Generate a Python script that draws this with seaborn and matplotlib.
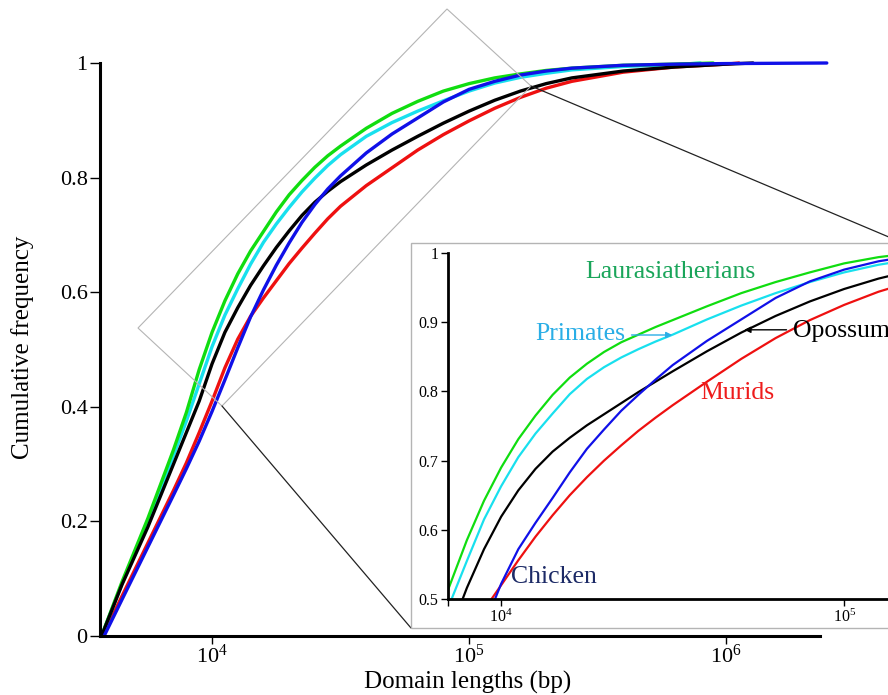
import numpy as np
import pandas as pd
import matplotlib
matplotlib.use("Agg")
import matplotlib.pyplot as plt
import seaborn as sns
from matplotlib.lines import Line2D
from matplotlib.patches import Rectangle, Polygon
from matplotlib.ticker import LogFormatterMathtext, NullLocator, FixedLocator, NullFormatter

# ---------------- data (log10 domain length, cumulative frequency) ----------------
species = ["Murids", "Primates", "Laurasiatherians", "Opossum", "Chicken"]
colors = {"Laurasiatherians": "#10dd10", "Primates": "#18e0ee", "Opossum": "#000000",
          "Murids": "#ee1010", "Chicken": "#1010e8"}

# main panel
green_logx = [3.57, 3.65, 3.75, 3.85, 3.90, 3.95, 4.00, 4.05, 4.10, 4.15, 4.20, 4.25, 4.30,
              4.35, 4.40, 4.45, 4.50, 4.60, 4.70, 4.80, 4.90, 5.00, 5.10, 5.20, 5.30, 5.40,
              5.60, 5.80, 5.95]
green_cdf = [0.0, 0.095, 0.205, 0.325, 0.39, 0.465, 0.53, 0.585, 0.632, 0.672, 0.706, 0.74,
             0.77, 0.795, 0.818, 0.838, 0.855, 0.886, 0.912, 0.933, 0.951, 0.964, 0.974,
             0.981, 0.987, 0.991, 0.996, 0.998, 1.0]
cyan_logx = [3.57, 3.65, 3.75, 3.85, 3.90, 3.95, 4.00, 4.05, 4.10, 4.15, 4.20, 4.25, 4.30,
             4.35, 4.40, 4.45, 4.50, 4.60, 4.70, 4.80, 4.90, 5.00, 5.10, 5.20, 5.30, 5.40,
             5.60, 5.80, 5.90]
cyan_cdf = [0.0, 0.092, 0.20, 0.315, 0.375, 0.44, 0.505, 0.56, 0.606, 0.649, 0.687, 0.719,
            0.748, 0.775, 0.799, 0.821, 0.84, 0.872, 0.896, 0.916, 0.934, 0.951, 0.965,
            0.975, 0.982, 0.988, 0.994, 0.997, 1.0]
black_logx = [3.57, 3.65, 3.75, 3.85, 3.90, 3.95, 4.00, 4.05, 4.10, 4.15, 4.20, 4.25, 4.30,
              4.35, 4.40, 4.45, 4.50, 4.60, 4.70, 4.80, 4.90, 5.00, 5.10, 5.20, 5.30, 5.40,
              5.60, 5.80, 6.00, 6.105]
black_cdf = [0.0, 0.09, 0.19, 0.30, 0.355, 0.41, 0.475, 0.53, 0.573, 0.612, 0.646, 0.678,
             0.707, 0.734, 0.757, 0.776, 0.793, 0.822, 0.848, 0.872, 0.895, 0.916, 0.935,
             0.951, 0.964, 0.974, 0.986, 0.993, 0.998, 1.0]
red_logx = [3.575, 3.65, 3.75, 3.85, 3.90, 3.95, 4.00, 4.05, 4.10, 4.15, 4.20, 4.25, 4.30,
            4.35, 4.40, 4.45, 4.50, 4.60, 4.70, 4.80, 4.90, 5.00, 5.10, 5.20, 5.30, 5.40,
            5.60, 5.80, 6.00, 6.05]
red_cdf = [0.0, 0.07, 0.162, 0.254, 0.302, 0.355, 0.41, 0.468, 0.518, 0.558, 0.59, 0.62,
           0.65, 0.677, 0.703, 0.728, 0.75, 0.786, 0.817, 0.848, 0.875, 0.899, 0.921, 0.94,
           0.956, 0.968, 0.984, 0.993, 0.998, 1.0]
blue_logx = [3.58, 3.65, 3.75, 3.85, 3.90, 3.95, 4.00, 4.05, 4.10, 4.15, 4.20, 4.25, 4.30,
             4.35, 4.40, 4.45, 4.50, 4.60, 4.70, 4.80, 4.90, 5.00, 5.10, 5.20, 5.30, 5.40,
             5.60, 5.80, 6.00, 6.392]
blue_cdf = [0.0, 0.064, 0.155, 0.246, 0.292, 0.34, 0.392, 0.447, 0.503, 0.557, 0.604, 0.647,
            0.686, 0.722, 0.753, 0.78, 0.803, 0.843, 0.876, 0.904, 0.932, 0.954, 0.968,
            0.979, 0.986, 0.991, 0.996, 0.998, 0.999, 1.0]

# inset panel (upper part of the curves)
in_green_logx = [3.835, 3.90, 3.95, 4.00, 4.05, 4.10, 4.15, 4.20, 4.25, 4.30, 4.35, 4.40,
                 4.45, 4.50, 4.60, 4.70, 4.80, 4.90, 5.00, 5.10, 5.20]
in_green_cdf = [0.50, 0.585, 0.642, 0.69, 0.731, 0.765, 0.795, 0.82, 0.84, 0.857, 0.871,
                0.882, 0.893, 0.903, 0.923, 0.942, 0.958, 0.972, 0.985, 0.994, 1.0]
in_cyan_logx = [3.845, 3.90, 3.95, 4.00, 4.05, 4.10, 4.15, 4.20, 4.25, 4.30, 4.35, 4.40,
                4.45, 4.50, 4.60, 4.70, 4.80, 4.90, 5.00, 5.10, 5.20]
in_cyan_cdf = [0.487, 0.555, 0.615, 0.663, 0.705, 0.739, 0.768, 0.796, 0.818, 0.835, 0.849,
               0.861, 0.872, 0.882, 0.904, 0.924, 0.942, 0.958, 0.972, 0.983, 0.991]
in_black_logx = [3.88, 3.90, 3.95, 4.00, 4.05, 4.10, 4.15, 4.20, 4.25, 4.30, 4.35, 4.40,
                 4.45, 4.50, 4.60, 4.70, 4.80, 4.90, 5.00, 5.10, 5.20]
in_black_cdf = [0.49, 0.516, 0.572, 0.619, 0.657, 0.688, 0.713, 0.733, 0.751, 0.767, 0.783,
                0.799, 0.814, 0.829, 0.858, 0.885, 0.909, 0.93, 0.948, 0.963, 0.975]
in_red_logx = [3.965, 4.00, 4.05, 4.10, 4.15, 4.20, 4.25, 4.30, 4.35, 4.40, 4.45, 4.50, 4.60,
               4.70, 4.80, 4.90, 5.00, 5.10, 5.20]
in_red_cdf = [0.495, 0.52, 0.556, 0.59, 0.621, 0.65, 0.676, 0.70, 0.722, 0.743, 0.762, 0.78,
              0.814, 0.847, 0.877, 0.903, 0.925, 0.944, 0.959]
in_blue_logx = [3.978, 4.00, 4.05, 4.10, 4.15, 4.20, 4.25, 4.30, 4.35, 4.40, 4.45, 4.50, 4.60,
                4.70, 4.80, 4.90, 5.00, 5.10, 5.20]
in_blue_cdf = [0.495, 0.522, 0.572, 0.61, 0.646, 0.683, 0.717, 0.745, 0.772, 0.795, 0.817,
               0.838, 0.873, 0.904, 0.935, 0.959, 0.976, 0.988, 0.996]

main_series = {"Laurasiatherians": (green_logx, green_cdf), "Primates": (cyan_logx, cyan_cdf),
               "Opossum": (black_logx, black_cdf), "Murids": (red_logx, red_cdf),
               "Chicken": (blue_logx, blue_cdf)}
inset_series = {"Laurasiatherians": (in_green_logx, in_green_cdf),
                "Primates": (in_cyan_logx, in_cyan_cdf),
                "Opossum": (in_black_logx, in_black_cdf), "Murids": (in_red_logx, in_red_cdf),
                "Chicken": (in_blue_logx, in_blue_cdf)}


def to_frame(series):
    rows = []
    for name, (lx, cy) in series.items():
        for a, b in zip(lx, cy):
            rows.append({"species": name, "length": 10 ** a, "cdf": b})
    return pd.DataFrame(rows)


df_main = to_frame(main_series)
df_inset = to_frame(inset_series)

# ---------------- style ----------------
sns.set_theme(style="white")
plt.rcParams["font.family"] = ["Liberation Serif", "DejaVu Serif"]
plt.rcParams["mathtext.fontset"] = "custom"
plt.rcParams["mathtext.rm"] = "Liberation Serif"
plt.rcParams["mathtext.it"] = "Liberation Serif:italic"
plt.rcParams["mathtext.bf"] = "Liberation Serif:bold"

W, H = 888, 695
fig = plt.figure(figsize=(W / 100, H / 100), dpi=100)
fig.patch.set_facecolor("white")


def fx(px):
    return px / W


def fy(py):
    return 1 - py / H


# ---------------- main axes ----------------
main_lo, main_hi = 3.564, 6.40
ax_w_px = (main_hi - main_lo) * 257
ax = fig.add_axes([fx(100), fy(636), ax_w_px / W, 573 / H])
ax.set_xscale("log")
sns.lineplot(data=df_main, x="length", y="cdf", hue="species", hue_order=species,
             palette=colors, estimator=None, sort=False, linewidth=2.4, legend=False, ax=ax)
for ln in ax.lines:
    ln.set_clip_on(False)
    ln.set_solid_joinstyle("round")
ax.set_xlim(10 ** main_lo, 10 ** main_hi)
ax.set_ylim(0, 1)
for s in ["top", "right"]:
    ax.spines[s].set_visible(False)
for s in ["left", "bottom"]:
    ax.spines[s].set_linewidth(2.2)
    ax.spines[s].set_color("black")
ax.spines["bottom"].set_bounds(10 ** main_lo, 10 ** 6.366)
ax.set_yticks([0, 0.2, 0.4, 0.6, 0.8, 1.0])
ax.set_yticklabels(["0", "0.2", "0.4", "0.6", "0.8", "1"])
ax.xaxis.set_major_locator(FixedLocator([1e4, 1e5, 1e6]))
ax.xaxis.set_major_formatter(LogFormatterMathtext())
ax.xaxis.set_minor_locator(NullLocator())
ax.tick_params(axis="y", which="major", direction="out", length=7, width=1,
               colors="black", labelsize=16, left=True, pad=2)
ax.tick_params(axis="x", which="major", direction="out", length=6, width=1,
               colors="black", labelsize=16, bottom=True, pad=0.5)
ax.set_xlabel("Domain lengths (bp)", fontsize=18, color="black")
ax.set_ylabel("Cumulative frequency", fontsize=18, color="black")
ax.xaxis.set_label_coords((468 - 100) / ax_w_px, (636 - 671) / 573)
ax.yaxis.set_label_coords((34 - 100) / ax_w_px, (636 - 347) / 573)
ax.patch.set_alpha(0)

# ---------------- zoom decoration ----------------
diamond = Polygon([[fx(447), fy(9)], [fx(531), fy(86)], [fx(222), fy(406)], [fx(138), fy(328)]],
                  closed=True, fill=False, edgecolor="#b4b4b4", linewidth=0.8,
                  transform=fig.transFigure, zorder=3)
fig.add_artist(diamond)
fig.add_artist(Line2D([fx(531), fx(903)], [fy(86), fy(243)], color="#222222", linewidth=0.9,
                      transform=fig.transFigure, zorder=3))
fig.add_artist(Line2D([fx(222), fx(411)], [fy(406), fy(628)], color="#222222", linewidth=0.9,
                      transform=fig.transFigure, zorder=3))
frame = Rectangle((fx(411), fy(628)), (1000 - 411) / W, (628 - 243) / H, facecolor="white",
                  edgecolor="#b4b4b4", linewidth=1.0, transform=fig.transFigure, zorder=4)
fig.add_artist(frame)

# ---------------- inset axes ----------------
in_lo, in_hi = 3.845, 5.35
axi = fig.add_axes([fx(448), fy(599), (in_hi - in_lo) * 343 / W, 346 / H])
axi.set_zorder(5)
axi.patch.set_alpha(0)
axi.set_xscale("log")
sns.lineplot(data=df_inset, x="length", y="cdf", hue="species", hue_order=species,
             palette=colors, estimator=None, sort=False, linewidth=1.6, legend=False, ax=axi)
for ln in axi.lines:
    ln.set_solid_joinstyle("round")
axi.set_xlim(10 ** in_lo, 10 ** in_hi)
axi.set_ylim(0.5, 1.0)
for s in ["top", "right"]:
    axi.spines[s].set_visible(False)
for s in ["left", "bottom"]:
    axi.spines[s].set_linewidth(2.0)
    axi.spines[s].set_color("black")
axi.set_yticks([0.5, 0.6, 0.7, 0.8, 0.9, 1.0])
axi.set_yticklabels(["0.5", "0.6", "0.7", "0.8", "0.9", "1"])
axi.xaxis.set_major_locator(FixedLocator([1e4, 1e5]))
axi.xaxis.set_major_formatter(LogFormatterMathtext())
axi.xaxis.set_minor_locator(FixedLocator([10 ** in_lo]))
axi.xaxis.set_minor_formatter(NullFormatter())
axi.tick_params(axis="both", which="both", direction="out", length=5, width=1,
                colors="black", labelsize=11.5, bottom=True, left=True, pad=2)
axi.set_xlabel("")
axi.set_ylabel("")

# labels inside the inset
axi.text(10 ** 4.492, 0.9725, "Laurasiatherians", color="#1aa55a", fontsize=18.5,
         ha="center", va="center")
axi.text(10 ** 4.23, 0.883, "Primates", color="#2aaee6", fontsize=18.5, ha="center",
         va="center")
axi.annotate("", xy=(10 ** 4.507, 0.8815), xytext=(10 ** 4.372, 0.8815),
             arrowprops=dict(arrowstyle="-|>", color="#2aaee6", lw=1.0, mutation_scale=9))
axi.text(10 ** 4.851, 0.887, "Opossum", color="black", fontsize=18.5, ha="left",
         va="center")
axi.annotate("", xy=(10 ** 4.701, 0.889), xytext=(10 ** 4.84, 0.889),
             arrowprops=dict(arrowstyle="-|>", color="black", lw=1.0, mutation_scale=9))
axi.text(10 ** 4.69, 0.798, "Murids", color="#ee1c1c", fontsize=18.5, ha="center",
         va="center")
axi.text(10 ** 4.154, 0.532, "Chicken", color="#1c2a66", fontsize=18.5, ha="center",
         va="center")

fig.savefig("out.png", dpi=100)
